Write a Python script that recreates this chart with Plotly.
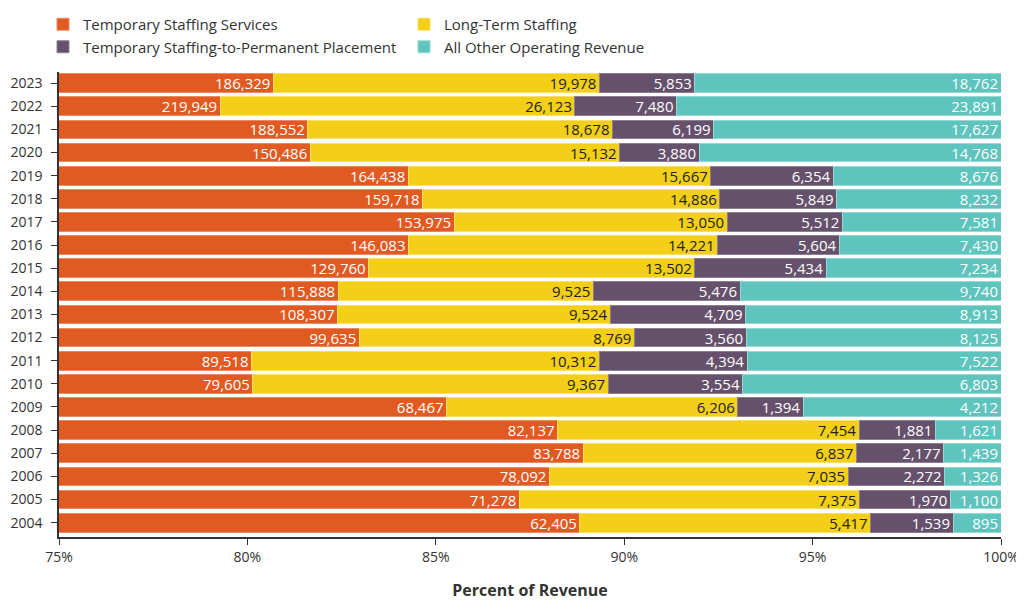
import plotly.graph_objects as go

years = [str(y) for y in range(2004, 2024)]
temp_staffing = [62405, 71278, 78092, 83788, 82137, 68467, 79605, 89518, 99635, 108307,
                 115888, 129760, 146083, 153975, 159718, 164438, 150486, 188552, 219949, 186329]
long_term = [5417, 7375, 7035, 6837, 7454, 6206, 9367, 10312, 8769, 9524,
             9525, 13502, 14221, 13050, 14886, 15667, 15132, 18678, 26123, 19978]
temp_to_perm = [1539, 1970, 2272, 2177, 1881, 1394, 3554, 4394, 3560, 4709,
                5476, 5434, 5604, 5512, 5849, 6354, 3880, 6199, 7480, 5853]
other_rev = [895, 1100, 1326, 1439, 1621, 4212, 6803, 7522, 8125, 8913,
             9740, 7234, 7430, 7581, 8232, 8676, 14768, 17627, 23891, 18762]

series = [
    ("Temporary Staffing Services", temp_staffing, "#E05A22", "#EC8A62", "white"),
    ("Long-Term Staffing", long_term, "#F3CF17", "#F8DF6A", "#222222"),
    ("Temporary Staffing-to-Permanent Placement", temp_to_perm, "#66516C", "#8E7E93", "white"),
    ("All Other Operating Revenue", other_rev, "#5EC4BD", "#94DAD5", "white"),
]

FONT = "Open Sans"
fig = go.Figure()
for name, vals, color, lcolor, tcolor in series:
    fig.add_trace(go.Bar(
        y=years, x=vals, name=name, orientation="h",
        marker=dict(color=color, line=dict(color=lcolor, width=1)),
        text=[f"{v:,}" for v in vals],
        textposition="inside", insidetextanchor="end", textangle=0,
        constraintext="none",
        textfont=dict(family=FONT, size=15, color=tcolor),
        hoverinfo="skip",
    ))

fig.update_layout(
    barmode="stack", barnorm="percent", bargap=0.19,
    width=1024, height=610,
    margin=dict(l=51, r=31, t=64, b=81),
    paper_bgcolor="white", plot_bgcolor="white",
    font=dict(family=FONT, size=14, color="#333333"),
    legend=dict(orientation="h", xref="container", yref="container",
                x=35 / 1024, y=1.0, xanchor="left", yanchor="top",
                entrywidth=316, traceorder="normal",
                font=dict(family=FONT, size=15, color="#333333"),
                itemclick=False, bgcolor="rgba(0,0,0,0)"),
    xaxis=dict(range=[75, 100], dtick=5, ticksuffix="%", showgrid=False, zeroline=False,
               showline=True, linecolor="#333333", linewidth=1.5, automargin=False,
               ticks="outside", ticklen=6, tickcolor="#333333",
               tickfont=dict(family=FONT, size=14, color="#333333"),
               title=dict(text="<b>Percent of Revenue</b>", standoff=20,
                          font=dict(family=FONT, size=16, color="#333333"))),
    yaxis=dict(range=[-0.62, 19.48], showgrid=False, zeroline=False,
               showline=True, linecolor="#333333", linewidth=1.5, automargin=False,
               ticks="outside", ticklen=6, tickcolor="#333333", ticklabelstandoff=6,
               tickfont=dict(family=FONT, size=14, color="#333333")),
)

fig.write_html("out.html")
